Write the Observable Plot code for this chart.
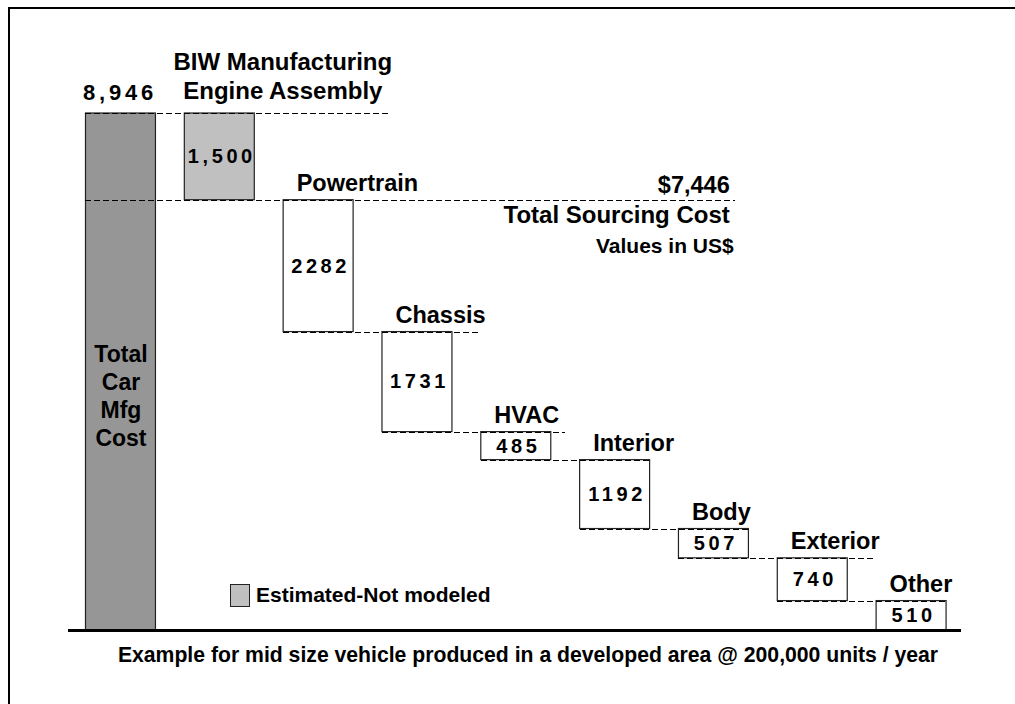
<!DOCTYPE html>
<html>
<head>
<meta charset="utf-8">
<script src="https://cdn.jsdelivr.net/npm/d3@7"></script>
<script src="https://cdn.jsdelivr.net/npm/@observablehq/plot@0.6"></script>
<style>
  html, body { margin: 0; padding: 0; background: #fff; }
  #wrap { position: relative; width: 1015px; height: 704px; overflow: hidden; font-family: "Liberation Sans", Arial, sans-serif; font-weight: bold; }
  #border { position: absolute; left: 8px; top: 7px; width: 1100px; height: 800px; border-top: 2px solid #000; border-left: 2px solid #000; }
  #chart { position: absolute; left: 0; top: 0; }
  #legend { position: absolute; left: 230px; top: 583px; display: flex; align-items: center; gap: 6px; font-size: 21px; color: #000; }
  #legend .sw { width: 18px; height: 21px; background: #c0c0c0; border: 1px solid #222; }
</style>
</head>
<body>
<div id="wrap">
  <div id="border"></div>
  <div id="chart"></div>
  <div id="legend"><span class="sw"></span><span>Estimated-Not modeled</span></div>
</div>
<script>
// ---- data ----
const categories = ["Total\nCar\nMfg\nCost", "BIW Manufacturing\nEngine Assembly", "Powertrain", "Chassis", "HVAC", "Interior", "Body", "Exterior", "Other"];
const values = [8946, 1500, 2282, 1731, 485, 1192, 507, 740, 510];
const kinds = ["total", "estimated", "modeled", "modeled", "modeled", "modeled", "modeled", "modeled", "modeled"];
const valueLabels = ["8,946", "1,500", "2282", "1731", "485", "1192", "507", "740", "510"];
const sourcingTotal = 7446;
const sourcingLabels = ["$7,446", "Total Sourcing Cost", "Values in US$"];
const caption = "Example for mid size vehicle produced in a developed area @ 200,000 units / year";

// ---- build waterfall table ----
let running = values[0];
const bars = categories.map((c, i) => {
  if (i === 0) return {i, cat: c, kind: kinds[i], label: valueLabels[i], y1: 0, y2: values[0]};
  const top = running;
  running = running - values[i];
  return {i, cat: c, kind: kinds[i], label: valueLabels[i], y1: running, y2: top};
});

const hw = 0.354; // half bar width in step units (layout)
// connector reach (layout, in step units) for each step bar's bottom level
const reach = {1: 6.22, 2: 3.64, 3: 4.5, 4: 5.354, 5: 6.354, 6: 7.64, 7: 8.354};
const connectors = [
  {level: bars[0].y2, x1: -hw, x2: 2.73}
];
for (let i = 1; i < bars.length - 1; i++) {
  connectors.push({level: bars[i].y1, x1: i === 1 ? -hw : i - hw, x2: reach[i]});
}

const font = "'Liberation Sans', Arial, sans-serif";
const total = values[0];

const plot = Plot.plot({
  width: 1015,
  height: 704,
  marginLeft: 68,
  marginRight: 54,
  marginTop: 113,
  marginBottom: 74,
  x: {type: "linear", domain: [-0.531, 8.505], axis: null},
  y: {domain: [0, total], axis: null},
  style: {fontFamily: font, fontWeight: "bold", background: "transparent", overflow: "visible", color: "#000"},
  marks: [
    Plot.rect(bars.filter(d => d.kind === "total"), {x1: d => d.i - hw, x2: d => d.i + hw, y1: "y1", y2: "y2", fill: "#969696", stroke: "#222", strokeWidth: 1.2}),
    Plot.rect(bars.filter(d => d.kind === "estimated"), {x1: d => d.i - hw, x2: d => d.i + hw, y1: "y1", y2: "y2", fill: "#c0c0c0", stroke: "#222", strokeWidth: 1.2}),
    Plot.rect(bars.filter(d => d.kind === "modeled"), {x1: d => d.i - hw, x2: d => d.i + hw, y1: "y1", y2: "y2", fill: "#fff", stroke: "#222", strokeWidth: 1.2}),
    Plot.ruleY(connectors, {y: "level", x1: "x1", x2: "x2", stroke: "#000", strokeWidth: 1, strokeDasharray: "6,3", shapeRendering: "crispEdges"}),
    Plot.ruleY([0], {stroke: "#000", strokeWidth: 3}),
    // values inside step bars
    Plot.text(bars.filter(d => d.i > 0), {x: "i", y: d => (d.y1 + d.y2) / 2, text: "label", fontSize: 20, fontWeight: "bold", fill: "#000", dx: 2, ariaDescription: "spaced"}),
    // total value above total bar
    Plot.text(bars.filter(d => d.i === 0), {x: "i", y: "y2", text: "label", fontSize: 22, fontWeight: "bold", lineAnchor: "bottom", dy: -14, dx: -1, fill: "#000", ariaDescription: "spacedWide"}),
    // total bar name inside bar
    Plot.text(bars.filter(d => d.i === 0), {x: "i", y: d => d.y2 / 2, text: "cat", fontSize: 23, lineHeight: 1.22, dy: 23, fill: "#000"}),
    // BIW label
    Plot.text(bars.filter(d => d.i === 1), {x: "i", y: "y2", text: "cat", fontSize: 24, lineHeight: 1.18, lineAnchor: "bottom", dx: 63, dy: -15, fill: "#000"}),
    // step labels
    Plot.text(bars.filter(d => d.i > 1), {x: d => d.i - hw, y: "y2", text: "cat", fontSize: 23.5, textAnchor: "start", lineAnchor: "bottom", dx: 13, dy: -9, fill: "#000"}),
    // sourcing total annotations
    Plot.text([sourcingLabels[0]], {x: [6.16], y: [sourcingTotal], text: d => d, textAnchor: "end", lineAnchor: "bottom", dy: -7, fontSize: 23.5, fill: "#000"}),
    Plot.text([sourcingLabels[1]], {x: [6.16], y: [sourcingTotal], text: d => d, textAnchor: "end", lineAnchor: "bottom", dy: 23, fontSize: 24, fill: "#000"}),
    Plot.text([sourcingLabels[2]], {x: [6.2], y: [sourcingTotal], text: d => d, textAnchor: "end", lineAnchor: "bottom", dy: 53, fontSize: 21, fill: "#000"}),
    // caption under the axis
    Plot.text([caption], {frameAnchor: "bottom", text: d => d, lineAnchor: "bottom", dx: 13, dy: 31, fontSize: 21.2, fill: "#000"})
  ]
});
d3.select(plot).selectAll('g[aria-description="spaced"] text').style("letter-spacing", "3.6px");
d3.select(plot).selectAll('g[aria-description="spacedWide"] text').style("letter-spacing", "3.8px");
document.getElementById("chart").appendChild(plot);
</script>
</body>
</html>
